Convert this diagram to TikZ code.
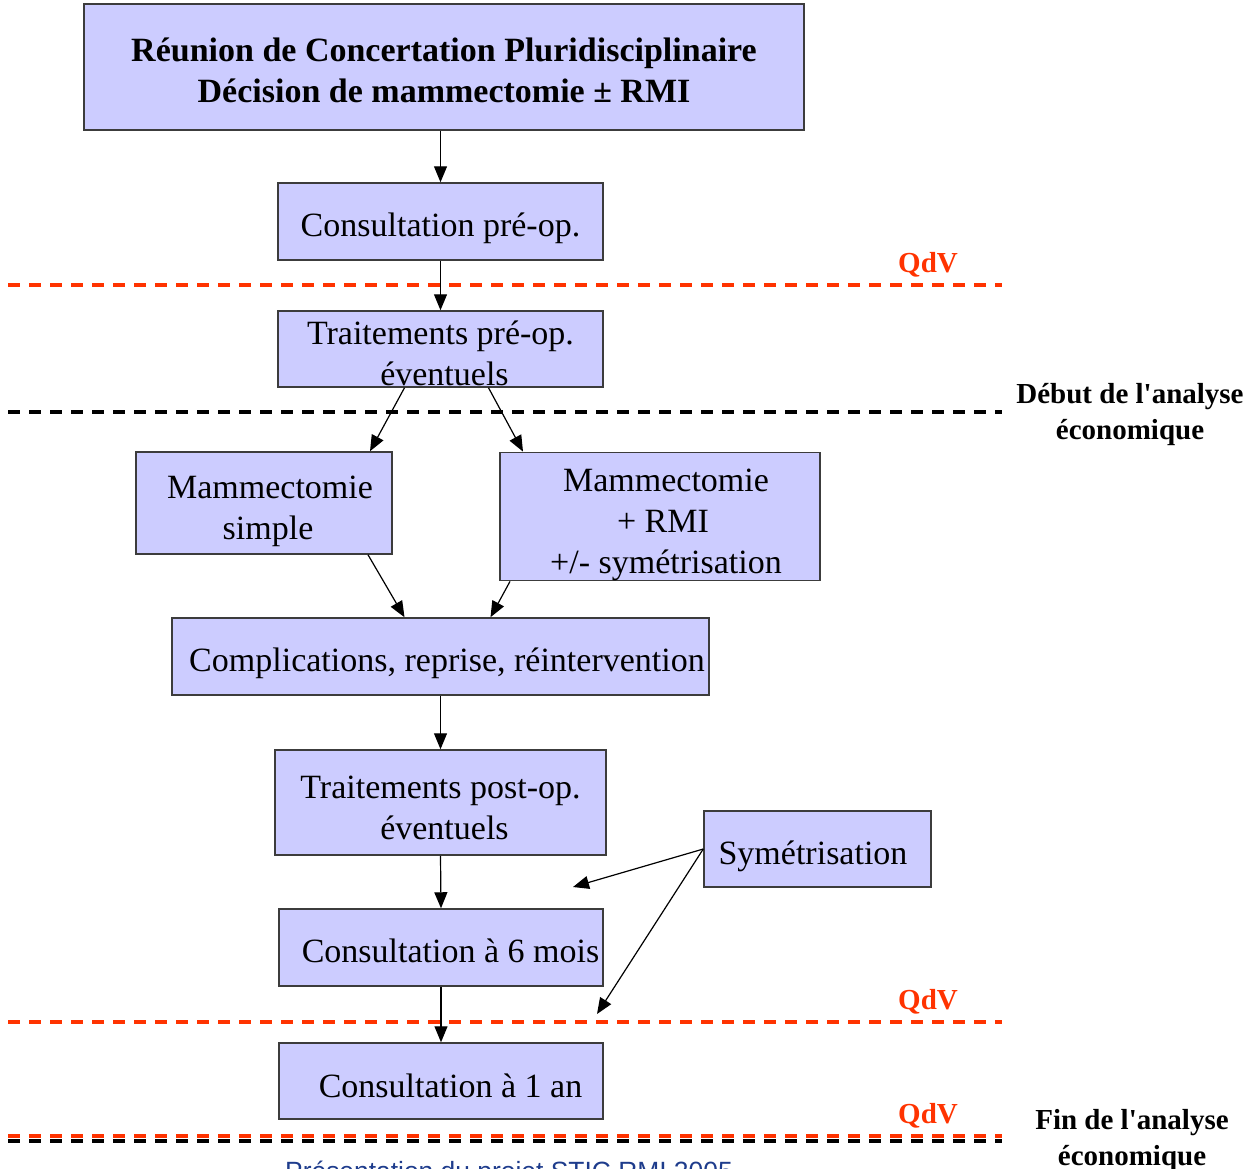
\documentclass[tikz,border=0pt]{standalone}
\usepackage{fontspec}
\setmainfont{Liberation Serif}
\setsansfont{Liberation Sans}
\newfontfamily\plainserif{Liberation Serif}
\usetikzlibrary{arrows.meta}
\definecolor{boxfill}{RGB}{204,204,255}
\definecolor{boxline}{RGB}{60,60,60}
\definecolor{qdvred}{RGB}{255,51,0}
\definecolor{footblue}{RGB}{30,60,140}
\newcommand\liftline[1]{\rule{0pt}{#1pt}}
\begin{document}
\begin{tikzpicture}[x=1pt,y=-1pt,
 box/.style={draw=boxline,fill=boxfill,line width=1.5pt,inner sep=0pt,align=center,font=\plainserif\fontsize{34}{41}\selectfont},
 arr/.style={line width=1.2pt,-{Triangle[length=16pt,width=13pt]}},
 qdv/.style={text=qdvred,inner sep=0pt,font=\plainserif\bfseries\fontsize{29}{36}\selectfont},
 lab/.style={align=center,inner sep=0pt,font=\plainserif\bfseries\fontsize{29}{36}\selectfont},
 redline/.style={draw=qdvred,line width=4pt,dash pattern=on 12pt off 9pt},
 blackline/.style={draw=black,line width=4pt,dash pattern=on 12pt off 9pt}]
\useasboundingbox (0,0) rectangle (1249,1168);
% dashed separators
\draw[redline] (8,285) -- (1002,285);
\draw[blackline] (8,412) -- (1002,412);
\draw[redline] (8,1022) -- (1002,1022);
\draw[redline] (8,1136) -- (1002,1136);
\draw[blackline] (8,1141) -- (1002,1141);
% boxes
\node[box,minimum width=720pt,minimum height=126pt,font=\plainserif\bfseries\fontsize{34}{41}\selectfont] (title) at (444,67) {\liftline{30}Réunion de Concertation Pluridisciplinaire\\Décision de mammectomie ± RMI};
\node[box,minimum width=325pt,minimum height=77pt] (cpre) at (440.5,221.5) {\liftline{38}Consultation pré-op.};
\node[box,minimum width=325pt,minimum height=76pt] (tpre) at (440.5,349) {\liftline{33}Traitements pré-op.\\\hspace*{8pt}éventuels};
\node[box,minimum width=256pt,minimum height=102pt] (msimple) at (264,503) {\liftline{39}\hspace*{12pt}Mammectomie\\\hspace*{8pt}simple};
\node[box,minimum width=320pt,minimum height=127pt] (mrmi) at (660,516.5) {\liftline{39}\hspace*{12pt}Mammectomie\\\hspace*{6pt}+ RMI\\\hspace*{12pt}+/- symétrisation};
\node[box,minimum width=537pt,minimum height=77pt] (compl) at (440.5,656.5) {\liftline{38}\hspace*{13pt}Complications, reprise, réintervention};
\node[box,minimum width=331pt,minimum height=105pt] (tpost) at (440.5,802.5) {\liftline{34}Traitements post-op.\\\hspace*{8pt}éventuels};
\node[box,minimum width=227pt,minimum height=76pt] (sym) at (817.5,849) {\liftline{38}Symétrisation\hspace*{9pt}};
\node[box,minimum width=324pt,minimum height=77pt] (c6) at (441,947.5) {\liftline{31}\hspace*{19pt}Consultation à 6 mois};
\node[box,minimum width=324pt,minimum height=76pt] (c1) at (441,1081) {\liftline{34}\hspace*{19pt}Consultation à 1 an};
% connectors
\draw[arr] (title.south -| cpre.north) -- (cpre.north);
\draw[arr] (cpre.south) -- (tpre.north);
\draw[arr] ([xshift=-36pt]tpre.south) -- ([xshift=106pt]msimple.north);
\draw[arr] ([xshift=48pt]tpre.south) -- ([xshift=-137pt]mrmi.north);
\draw[arr] ([xshift=104pt]msimple.south) -- ([xshift=-36pt]compl.north);
\draw[arr] ([xshift=-150pt]mrmi.south) -- ([xshift=50pt]compl.north);
\draw[arr] (compl.south) -- (tpost.north);
\draw[arr] (tpost.south) -- (c6.north);
\draw[arr] (c6.south) -- (c1.north);
\coordinate (s1) at (573,887);
\coordinate (s2) at (597,1014);
\draw[arr] (sym.west) -- (s1);
\draw[arr] (sym.west) -- (s2);
% labels
\node[qdv] (q1) at (928,265) {QdV};
\node[qdv] (q2) at (928,1002) {QdV};
\node[qdv] (q3) at (928,1116) {QdV};
\node[lab] (debut) at (1130,415) {Début de l'analyse\\économique};
\node[lab] (fin) at (1132,1141) {Fin de l'analyse\\économique};
\node[anchor=base west,inner sep=0pt,text=footblue,font=\sffamily\fontsize{26.4}{30}\selectfont] (foot) at (285,1180) {Présentation du projet STIC RMI 2005};
\end{tikzpicture}
\end{document}
